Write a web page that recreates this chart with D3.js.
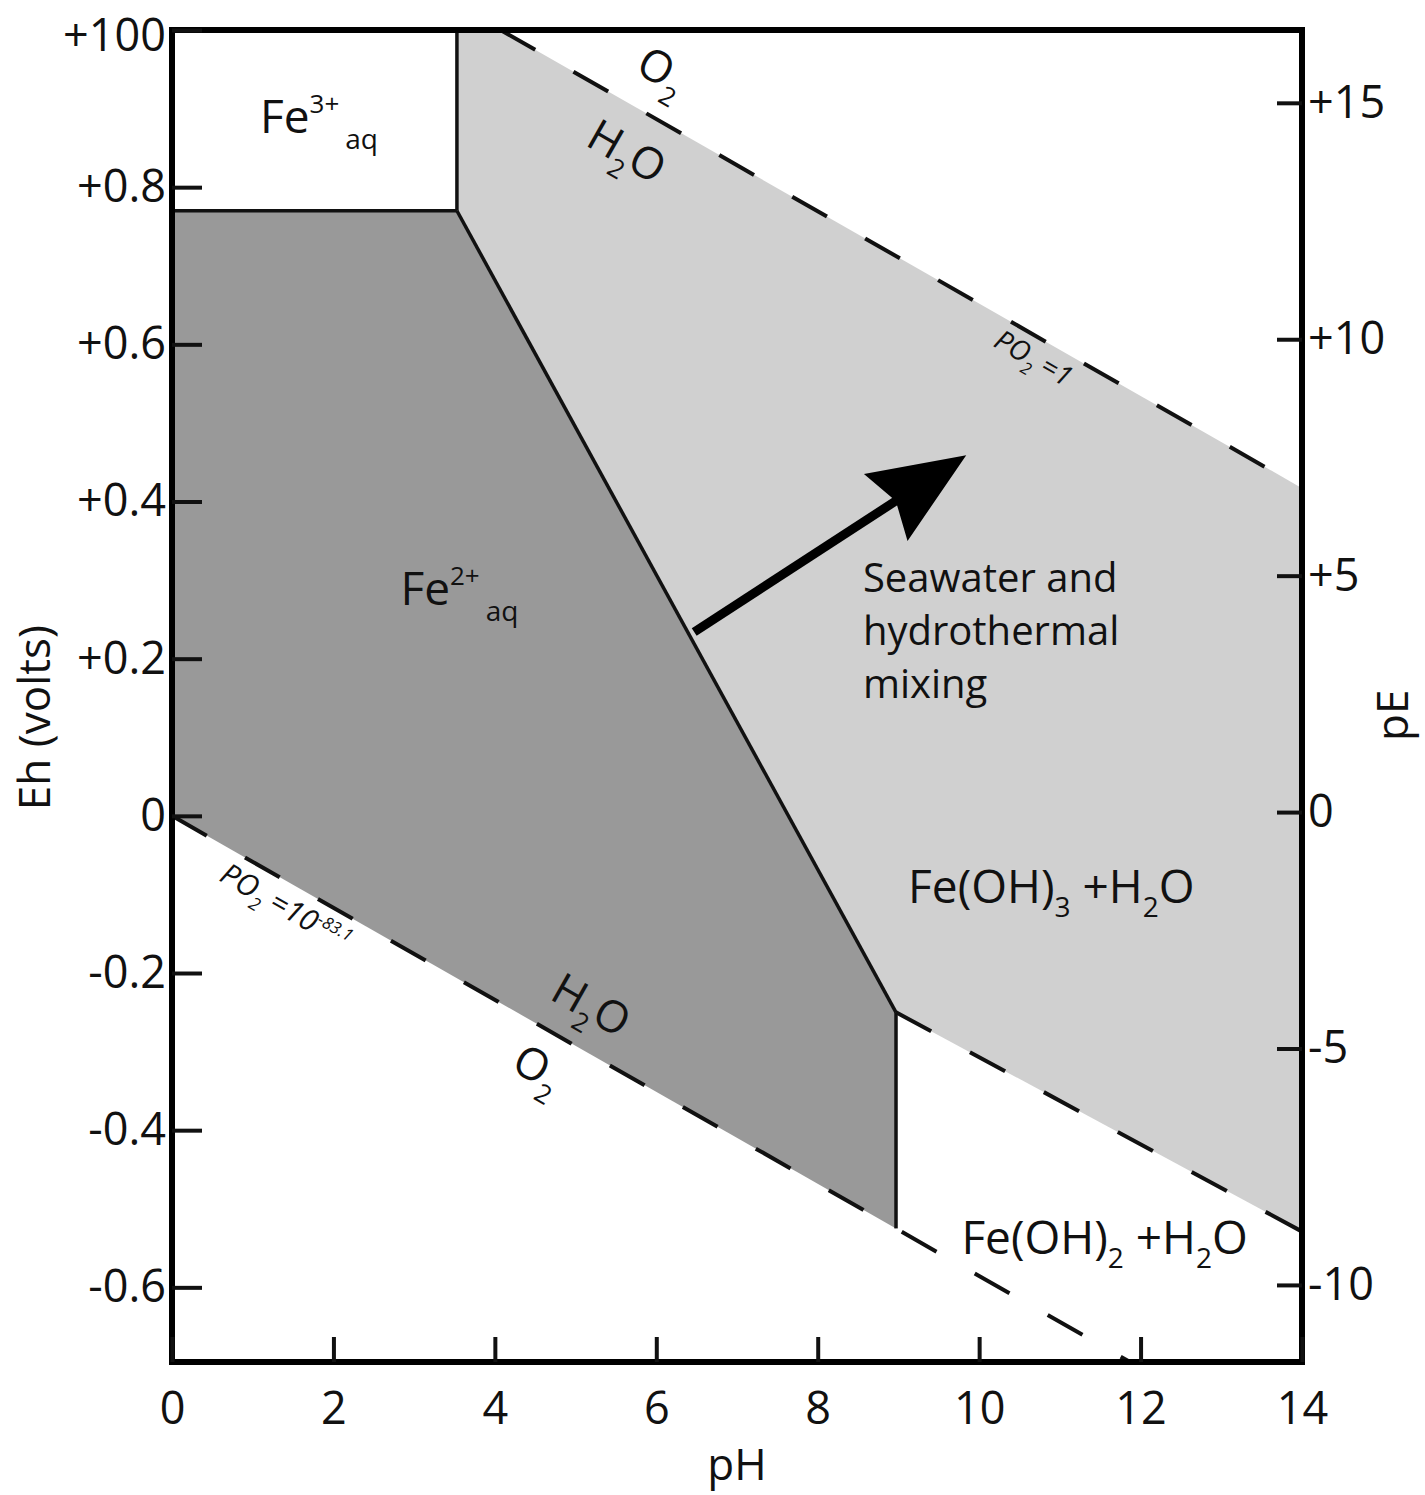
<!DOCTYPE html>
<html>
<head>
<meta charset="utf-8">
<script src="https://cdn.jsdelivr.net/npm/d3@7"></script>
<style>
  body { margin: 0; background: #fff; }
  text { font-family: "Open Sans", "Noto Sans", sans-serif; fill: #111; }
</style>
</head>
<body>
<script>
// axis ticks
var phTicks = [0, 2, 4, 6, 8, 10, 12, 14];
var ehTicks = [1.0, 0.8, 0.6, 0.4, 0.2, 0, -0.2, -0.4, -0.6];
var ehLabels = ["+100", "+0.8", "+0.6", "+0.4", "+0.2", "0", "-0.2", "-0.4", "-0.6"];
var peTicks = [15, 10, 5, 0, -5, -10];
var peLabels = ["+15", "+10", "+5", "0", "-5", "-10"];

// boundaries, [pH, Eh]
var fe3Fe2 = [[0, 0.77], [3.53, 0.77]];
var fe3Hydrox = [[3.53, 1.0], [3.53, 0.77]];
var fe2Fe3oh = [[3.53, 0.77], [8.97, -0.25]];
var fe2Fe2oh = [[8.97, -0.25], [8.97, -0.525]];
var fe3ohFe2oh = [[8.97, -0.25], [14, -0.529]];
var waterUpper = [[4.07, 1.0], [14, 0.417]];   // PO2 = 1
var waterLower = [[0, 0], [11.87, -0.695]];    // PO2 = 10^-83.1

// shaded fields
var fe2Field = [[0, 0.77], [3.53, 0.77], [8.97, -0.25], [8.97, -0.525], [0, 0]];
var fe3ohField = [[3.53, 1.0], [4.07, 1.0], [14, 0.417], [14, -0.529], [8.97, -0.25], [3.53, 0.77]];

// mixing arrow, start -> tip
var mixArrow = [[6.47, 0.234], [9.84, 0.459]];

var margin = {top: 30, right: 123, bottom: 133, left: 172},
  width = 1425 - margin.left - margin.right,
  height = 1495 - margin.top - margin.bottom;

var svg = d3.select("body").append("svg")
  .attr("width", 1425)
  .attr("height", 1495)
  .append("g")
  .attr("transform", "translate(" + margin.left + "," + margin.top + ")");

var x = d3.scaleLinear().domain([0, 14]).range([0, width]);
var y = d3.scaleLinear().domain([-0.695, 1.0]).range([height, 0]);
var pe = d3.scaleLinear().domain([-11.63, 16.54]).range([height, 0]);

var line = d3.line().x(d => x(d[0])).y(d => y(d[1]));

// fields
svg.append("path").attr("d", line(fe3ohField) + "Z").attr("fill", "#d0d0d0");
svg.append("path").attr("d", line(fe2Field) + "Z").attr("fill", "#999999");

// solid boundaries
[fe3Fe2, fe3Hydrox, fe2Fe3oh, fe2Fe2oh].forEach(function (seg) {
  svg.append("path").attr("d", line(seg))
    .attr("fill", "none").attr("stroke", "#111").attr("stroke-width", 3.5);
});

// dashed boundaries
[waterUpper, waterLower, fe3ohFe2oh].forEach(function (seg) {
  svg.append("path").attr("d", line(seg))
    .attr("fill", "none").attr("stroke", "#111").attr("stroke-width", 4)
    .attr("stroke-dasharray", "40,44");
});

// arrow
var p0 = [x(mixArrow[0][0]), y(mixArrow[0][1])],
  p1 = [x(mixArrow[1][0]), y(mixArrow[1][1])];
var len = Math.hypot(p1[0] - p0[0], p1[1] - p0[1]);
var u = [(p1[0] - p0[0]) / len, (p1[1] - p0[1]) / len],
  n = [-u[1], u[0]];
function along(d, w) {
  return [p1[0] - u[0] * d + n[0] * w, p1[1] - u[1] * d + n[1] * w];
}
svg.append("line")
  .attr("x1", p0[0]).attr("y1", p0[1])
  .attr("x2", along(70, 0)[0]).attr("y2", along(70, 0)[1])
  .attr("stroke", "#000").attr("stroke-width", 9);
svg.append("path")
  .attr("d", "M" + [p1, along(96, 40), along(84, 0), along(96, -40)].join("L") + "Z")
  .attr("fill", "#000");

// frame
svg.append("rect").attr("width", width).attr("height", height)
  .attr("fill", "none").attr("stroke", "#000").attr("stroke-width", 6);

// axes
function styleAxis(g) {
  g.select(".domain").remove();
  g.selectAll(".tick line").attr("stroke", "#111").attr("stroke-width", 4);
  g.selectAll(".tick text").style("font-size", "45px").attr("fill", "#111");
}
var leftAxis = svg.append("g")
  .call(d3.axisLeft(y).tickValues(ehTicks).tickFormat((d, i) => ehLabels[i])
    .tickSize(-30).tickPadding(6))
  .call(styleAxis);
// top label sits a little below the corner
leftAxis.select(".tick text").attr("dy", "0.45em");
svg.append("g")
  .attr("transform", "translate(" + width + ",0)")
  .call(d3.axisRight(pe).tickValues(peTicks).tickFormat((d, i) => peLabels[i])
    .tickSize(-25).tickPadding(6))
  .call(styleAxis);
svg.append("g")
  .attr("transform", "translate(0," + height + ")")
  .call(d3.axisBottom(x).tickValues(phTicks).tickSize(-25).tickPadding(30))
  .call(styleAxis);

// axis titles
svg.append("text").attr("x", x(7)).attr("y", height + 118)
  .attr("text-anchor", "middle").style("font-size", "44px").text("pH");
svg.append("text").attr("transform", "translate(-122," + y(0.125) + ") rotate(-90)")
  .attr("text-anchor", "middle").style("font-size", "44px").text("Eh (volts)");
svg.append("text").attr("transform", "translate(" + (width + 106) + "," + y(0.128) + ") rotate(-90)")
  .attr("text-anchor", "middle").style("font-size", "44px").text("pE");

// rich text: parts = [text, size, dy, dx]
function rich(g, px, py, parts, anchor, italic) {
  var t = g.append("text").attr("x", px).attr("y", py)
    .attr("text-anchor", anchor || "start");
  if (italic) t.style("font-style", "italic");
  parts.forEach(function (p) {
    t.append("tspan").attr("dy", p[2] || 0).attr("dx", p[3] || 0)
      .style("font-size", p[1] + "px").text(p[0]);
  });
  return t;
}

// field labels
rich(svg, x(1.09), y(0.869), [["Fe", 46], ["3+", 26, -20], ["aq", 28, 36, 6]]);
rich(svg, x(2.83), y(0.268), [["Fe", 46], ["2+", 26, -20], ["aq", 28, 36, 6]]);
rich(svg, x(9.12), y(-0.111), [["Fe(OH)", 46], ["3", 28, 14], [" +H", 46, -14], ["2", 28, 14], ["O", 46, -14]]);
rich(svg, x(9.78), y(-0.558), [["Fe(OH)", 46], ["2", 28, 14], [" +H", 46, -14], ["2", 28, 14], ["O", 46, -14]]);

["Seawater and", "hydrothermal", "mixing"].forEach(function (s, i) {
  svg.append("text").attr("x", x(8.56)).attr("y", y(0.285) + i * 53)
    .style("font-size", "40px").text(s);
});

// labels along the water lines
function lineLabel(seg, ph, off, parts, italic) {
  var t = (ph - seg[0][0]) / (seg[1][0] - seg[0][0]);
  var eh = seg[0][1] + t * (seg[1][1] - seg[0][1]);
  var ang = Math.atan2(y(seg[1][1]) - y(seg[0][1]), x(seg[1][0]) - x(seg[0][0])) * 180 / Math.PI;
  var g = svg.append("g")
    .attr("transform", "translate(" + x(ph) + "," + y(eh) + ") rotate(" + ang + ")");
  rich(g, 0, off, parts, "middle", italic);
}
lineLabel(waterUpper, 5.8, -30, [["O", 44], ["2", 26, 14]]);
lineLabel(waterUpper, 5.9, 58, [["H", 44], ["2", 26, 14], ["O", 44, -14]]);
lineLabel(waterUpper, 10.8, 30, [["PO", 28], ["2", 17, 9], [" =1", 28, -9]], true);
lineLabel(waterLower, 4.93, -28, [["H", 44], ["2", 26, 14], ["O", 44, -14]]);
lineLabel(waterLower, 4.77, 53, [["O", 44], ["2", 26, 14]]);
lineLabel(waterLower, 1.55, 33, [["PO", 30], ["2", 18, 9], [" =10", 30, -9], ["-83.1", 17, -11]], true);
</script>
</body>
</html>
